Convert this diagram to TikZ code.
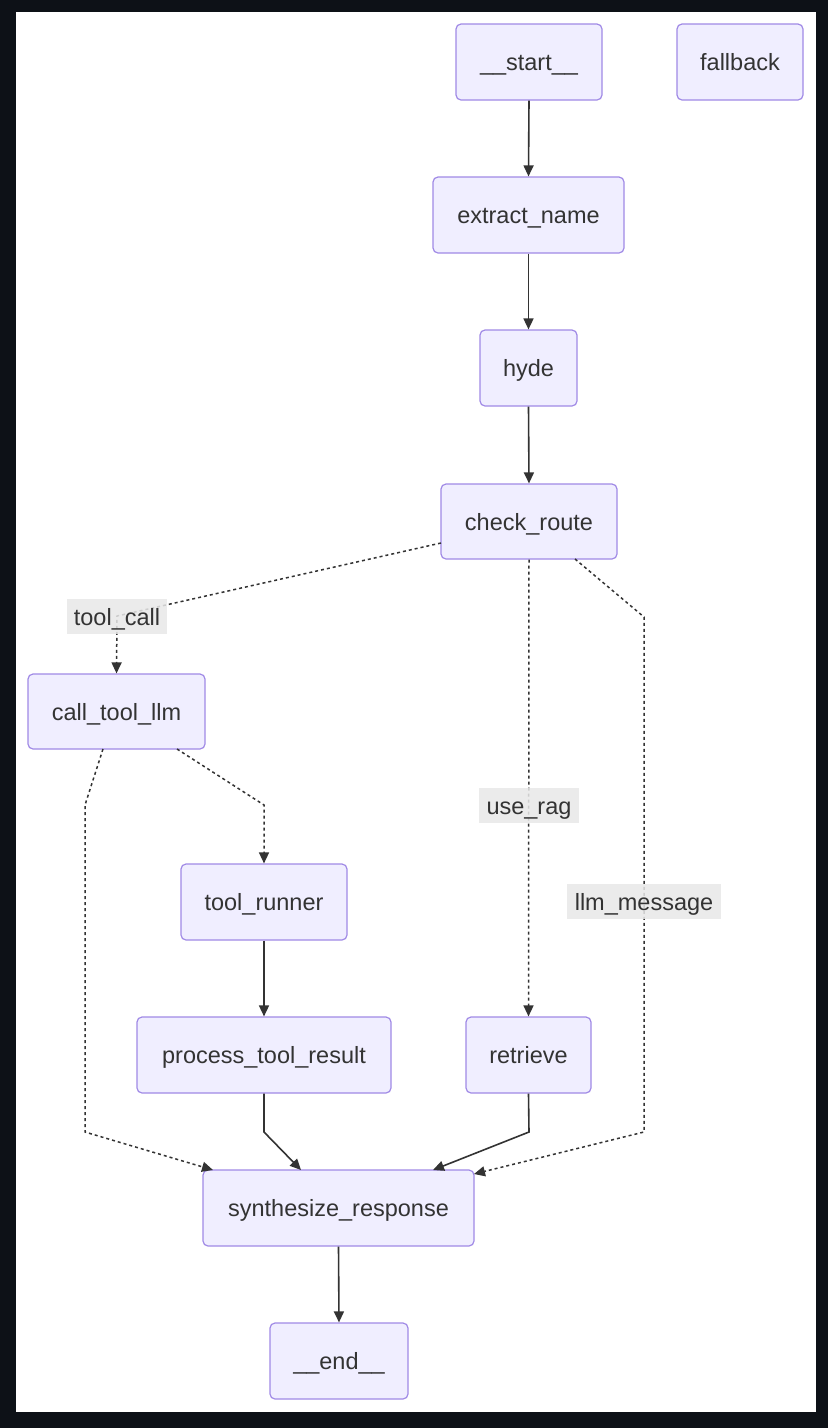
\documentclass[tikz,border=0pt]{standalone}
\usepackage{fontspec}
\setmainfont{Liberation Sans}
\usetikzlibrary{arrows.meta}
\definecolor{bgdark}{HTML}{0D1117}
\definecolor{nodefill}{HTML}{F0EEFF}
\definecolor{nodeline}{HTML}{A08AE6}
\definecolor{ink}{HTML}{333333}
\definecolor{lblfill}{HTML}{E8E8E8}
\begin{document}
\begin{tikzpicture}[x=1pt,y=-1pt,
  box/.style={draw=nodeline, fill=nodefill, line width=1.2pt, rounded corners=5pt,
    inner sep=0pt, text height=17pt, text depth=0pt,
    font=\fontsize{23.5}{28}\selectfont, text=ink},
  lbl/.style={fill=lblfill, fill opacity=0.85, text opacity=1, inner sep=0pt,
    text height=17pt, text depth=0pt,
    minimum height=35pt, font=\fontsize{23.5}{28}\selectfont, text=ink},
  solidedge/.style={draw=ink, line width=1.6pt, -{Triangle[length=11pt,width=10pt]}},
  dotedge/.style={draw=ink, line width=1.5pt, dash pattern=on 3pt off 3pt,
    -{Triangle[length=11pt,width=10pt]}},
]
\fill[bgdark] (0,0) rectangle (828,1428);
\fill[white] (16,12) rectangle (816,1412);

% nodes
\node[box, minimum width=146pt, minimum height=76pt] (start) at (529,62) {\_\_start\_\_};
\node[box, minimum width=126pt, minimum height=76pt] (fallback) at (740,62) {fallback};
\node[box, minimum width=191pt, minimum height=76pt] (extract) at (528.5,215) {extract\_name};
\node[box, minimum width=97pt, minimum height=76pt] (hyde) at (528.5,368) {hyde};
\node[box, minimum width=176pt, minimum height=75pt] (check) at (529,521.5) {check\_route};
\node[box, minimum width=177pt, minimum height=75pt] (calltool) at (116.5,711.5) {call\_tool\_llm};
\node[box, minimum width=166pt, minimum height=76pt] (runner) at (264,902) {tool\_runner};
\node[box, minimum width=254pt, minimum height=76pt] (process) at (264,1055) {process\_tool\_result};
\node[box, minimum width=125pt, minimum height=76pt] (retrieve) at (528.5,1055) {retrieve};
\node[box, minimum width=271pt, minimum height=76pt] (synth) at (338.5,1208) {synthesize\_response};
\node[box, minimum width=138pt, minimum height=76pt] (end) at (339,1361) {\_\_end\_\_};

% waypoints
\coordinate (c1) at (441,543);
\coordinate (tcc) at (117,616);
\coordinate (c2) at (575,559);
\coordinate (c3) at (644,617);
\coordinate (c4) at (644,1132);
\coordinate (d1) at (177,749);
\coordinate (d2) at (264,805);
\coordinate (e1) at (103,749);
\coordinate (e2) at (85,805);
\coordinate (e3) at (85,1132);
\coordinate (f1) at (264,1132);
\coordinate (g1) at (529,1132);

% solid edges
\draw[solidedge] (start.south) -- (extract.north);
\draw[solidedge] (extract.south) -- (hyde.north);
\draw[solidedge] (hyde.south) -- (check.north);
\draw[solidedge] (runner.south) -- (process.north);
\draw[solidedge] (process.south) -- (f1) -- (301,1170);
\draw[solidedge] (retrieve.south) -- (g1) -- (433,1170);
\draw[solidedge] (synth.south) -- (end.north);

% dotted edges
\draw[dotedge] (c1) -- (tcc) -- (calltool.north);
\draw[dotedge] (check.south) -- (retrieve.north);
\draw[dotedge] (c2) -- (c3) -- (c4) -- (474,1174);
\draw[dotedge] (d1) -- (d2) -- (runner.north);
\draw[dotedge] (e1) -- (e2) -- (e3) -- (213,1170);

% edge labels
\node[lbl, minimum width=100pt] (ltool) at (117,616.5) {tool\_call};
\node[lbl, minimum width=100pt] (lrag) at (529,805.5) {use\_rag};
\node[lbl, minimum width=154pt] (lllm) at (644,901.5) {llm\_message};
\end{tikzpicture}
\end{document}
